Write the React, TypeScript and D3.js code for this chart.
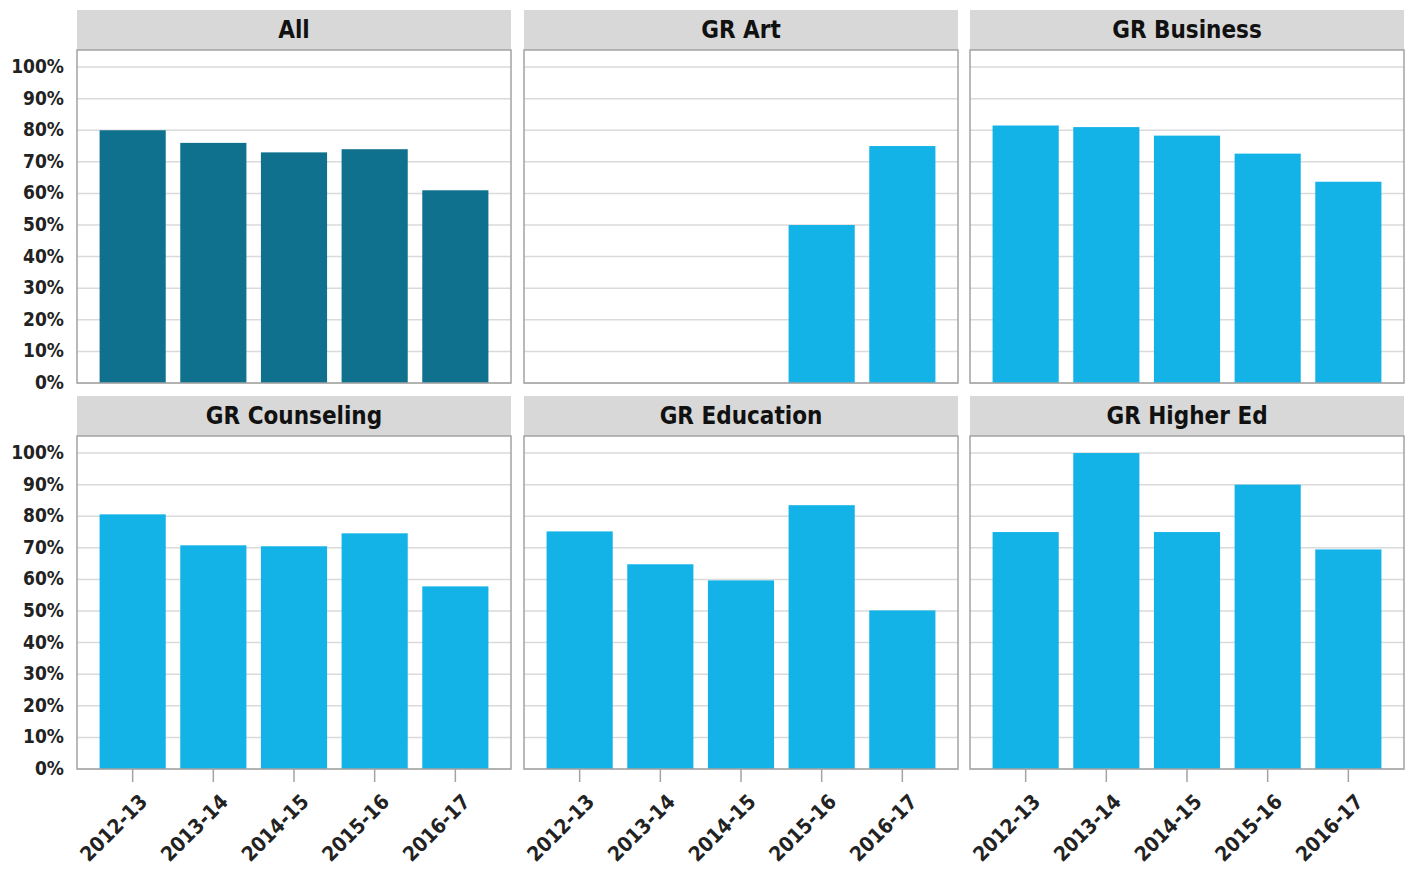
import React from 'react';
import * as d3 from 'd3';

// small-multiples: completion rate by program and year
const years = ['2012-13', '2013-14', '2014-15', '2015-16', '2016-17'];
const panelNames = ['All', 'GR Art', 'GR Business', 'GR Counseling', 'GR Education', 'GR Higher Ed'];

const allValues = [0.80, 0.76, 0.73, 0.74, 0.61];
const artValues = [null, null, null, 0.50, 0.75];
const businessValues = [0.815, 0.81, 0.783, 0.726, 0.637];
const counselingValues = [0.806, 0.708, 0.705, 0.746, 0.578];
const educationValues = [0.752, 0.648, 0.597, 0.835, 0.502];
const higherEdValues = [0.75, 1.0, 0.75, 0.90, 0.695];

const panelValues: (number | null)[][] = [
  allValues, artValues, businessValues, counselingValues, educationValues, higherEdValues,
];

const yTicks = [0, 0.1, 0.2, 0.3, 0.4, 0.5, 0.6, 0.7, 0.8, 0.9, 1.0];

const W = 1411;
const H = 869;
const colX = [77, 524, 970];
const panelW = 434;
const stripTop = [10, 396];
const stripH = 40;
const plotH = 333;

const darkColor = '#10718f';
const lightColor = '#13b3e8';
const font = "'Liberation Sans Narrow', 'DejaVu Sans Condensed', 'Roboto', sans-serif";

const App = () => {
  const x = d3.scaleBand<string>()
    .domain(years)
    .range([0, panelW])
    .paddingInner(0.18)
    .paddingOuter(0.28);

  const y = d3.scaleLinear()
    .domain([0, 1.054])
    .range([plotH, 0]);

  const fmt = d3.format('.0%');

  return (
    <svg width={W} height={H} style={{ position: 'absolute', left: 0, top: 0, background: '#fff' }}>
      {panelNames.map((name, i) => {
        const col = i % 3;
        const row = Math.floor(i / 3);
        const px = colX[col];
        const sTop = stripTop[row];
        const pTop = sTop + stripH;
        const values = panelValues[i];
        const color = i === 0 ? darkColor : lightColor;
        return (
          <g key={name}>
            {/* strip header */}
            <rect x={px} y={sTop} width={panelW} height={stripH} fill="#d8d8d8" />
            <text x={px + panelW / 2} y={sTop + stripH / 2 + 8} textAnchor="middle"
              fontFamily={font} fontWeight="bold" fontSize={24} fill="#111">{name}</text>

            <g transform={`translate(${px},${pTop})`}>
              <rect x={0} y={0} width={panelW} height={plotH} fill="#fff" />
              {yTicks.map(t => (
                <line key={t} x1={0} x2={panelW} y1={y(t)} y2={y(t)} stroke="#dadada" strokeWidth={1.5} />
              ))}
              {values.map((v, j) => v == null ? null : (
                <rect key={j} x={x(years[j])} y={y(v)} width={x.bandwidth()} height={plotH - y(v)} fill={color} />
              ))}
              <rect x={0} y={0} width={panelW} height={plotH} fill="none" stroke="#a3a3a3" strokeWidth={1.5} />

              {col === 0 && yTicks.map(t => (
                <text key={t} x={-13} y={y(t) + 6} textAnchor="end" fontFamily={font}
                  fontWeight="bold" fontSize={19} fill="#222">{fmt(t)}</text>
              ))}

              {row === 1 && years.map(yr => {
                const cx = (x(yr) ?? 0) + x.bandwidth() / 2;
                return (
                  <g key={yr}>
                    <line x1={cx} x2={cx} y1={plotH} y2={plotH + 13} stroke="#a3a3a3" strokeWidth={1.5} />
                    <text transform={`translate(${cx + 16},${plotH + 34}) rotate(-45)`} textAnchor="end"
                      fontFamily={font} fontWeight="bold" fontSize={20.5} fill="#222">{yr}</text>
                  </g>
                );
              })}
            </g>
          </g>
        );
      })}
    </svg>
  );
};

export default App;
